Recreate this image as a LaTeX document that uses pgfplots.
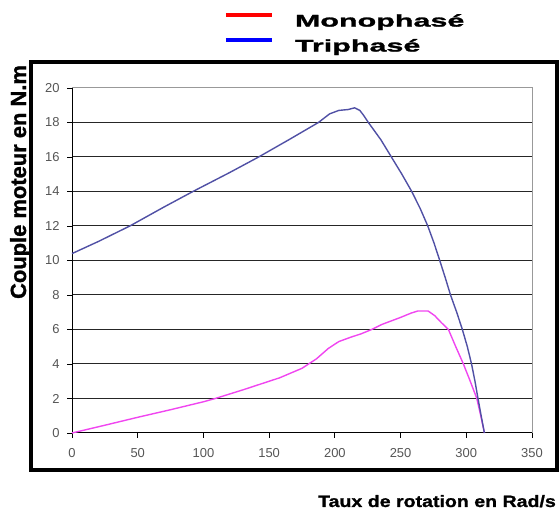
\documentclass[border=0pt]{standalone}
\usepackage{pgfplots}
\pgfplotsset{compat=1.18}
\usepackage{fontspec}
\setmainfont{Liberation Sans}
\newfontfamily\heavy{Liberation Sans Bold}[FakeBold=1.2]
\newfontfamily\heavywide{Liberation Sans Bold}[FakeBold=1.5,FakeStretch=1.8]
\newfontfamily\heavyx{Liberation Sans Bold}[FakeBold=1.2,FakeStretch=1.19]
\definecolor{tri}{RGB}{80,80,165}
\definecolor{mono}{RGB}{240,70,240}
\definecolor{tickgray}{RGB}{85,85,85}
\begin{document}
\begin{tikzpicture}[x=1bp,y=1bp]
\path[use as bounding box] (0,0) rectangle (559,513);
\begin{axis}[
  at={(72bp,80bp)}, anchor=south west,
  scale only axis, width=460bp, height=345bp,
  xmin=0, xmax=350, ymin=0, ymax=20,
  xtick={0,50,...,350}, ytick={0,2,...,20},
  axis x line=bottom, axis y line=left,
  axis line style={-, black, line width=1bp},
  tick align=outside, major tick length=5bp,
  tick style={black, line width=0.8bp},
  ymajorgrids, major grid style={black!85, line width=1bp},
  ticklabel style={font=\fontsize{13}{15}\selectfont, text=tickgray},
  /pgf/number format/assume math mode=true,
  xticklabel style={yshift=-7bp},
  yticklabel style={xshift=-4bp},
  clip=false,
  legend cell align=left,
  legend style={draw=none, fill=none, inner sep=0pt, outer sep=0pt,
    at={(axis description cs:0.3304,1.217)}, anchor=north west,
    font=\heavywide\fontsize{17}{20}\selectfont,
    row sep=10bp,
    nodes={inner sep=0pt},
    /tikz/every odd column/.append style={column sep=21bp}},
  legend image code/.code={\draw[#1] (0bp,6bp) -- (46bp,6bp);},
]
\addlegendimage{red, line width=4bp}
\addlegendentry{Monophasé}
\addlegendimage{blue, line width=4bp}
\addlegendentry{Triphasé}
\addplot[mono, line width=1.4bp, forget plot] coordinates {
(0,0) (25,0.45) (50,0.91) (75,1.35) (100,1.81) (109,2.0) (130,2.5)
(158,3.2) (175,3.75) (186,4.3) (195,4.9) (203,5.3) (212,5.55) (220,5.75) (228,6.0)
(236,6.3) (250,6.7) (258,6.95) (263,7.07) (271,7.07) (276,6.8) (281,6.4)
(286.4,6.0) (292,5.0) (297.8,4.0) (303,3.0) (308,2.0) (311,1.0) (313.8,0)
};
\addplot[tri, line width=1.4bp, forget plot] coordinates {
(0,10.4) (20,11.1) (44,12.0) (70,13.1) (92,14.0) (120,15.1) (142,16.0)
(165,17.0) (187.5,18.0) (196,18.5) (203,18.7) (210,18.75) (215,18.85)
(219,18.7) (222,18.4) (225.5,18.0) (235,17.0) (243,16.0) (251,15.0)
(258.5,14.0) (265,13.0) (270.7,12.0) (275.5,11.0) (279.8,10.0) (284,9.0)
(288,8.0) (292.7,7.0) (297,6.0) (300.8,5.0) (304,4.0) (306.6,3.0)
(308.9,2.0) (311.3,1.0) (313.8,0)
};
\draw[black!40, line width=1bp] (rel axis cs:0,1) -- (rel axis cs:1,1) -- (rel axis cs:1,0);
\end{axis}
\draw[line width=4bp] (31,43) rectangle (557,451);
\node[anchor=base east, inner sep=0pt, font=\heavyx\fontsize{16.5}{18}\selectfont] at (556,6) {Taux de rotation en Rad/s};
\node[anchor=base, rotate=90, inner sep=0pt, font=\heavy\fontsize{22}{24}\selectfont] at (26,331) {Couple moteur en N.m};
\end{tikzpicture}
\end{document}
